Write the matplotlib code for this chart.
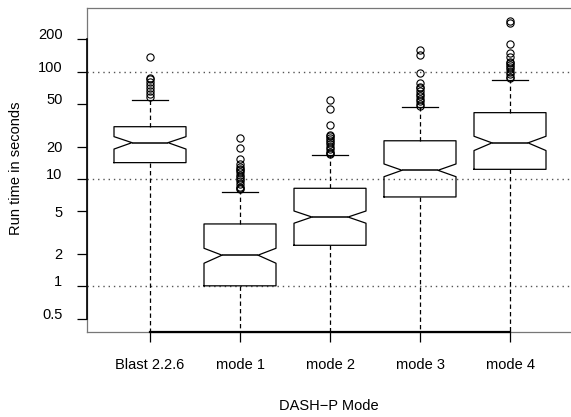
import numpy as np
import matplotlib
matplotlib.use('Agg')
import matplotlib.pyplot as plt
import matplotlib.transforms as mtransforms

plt.rcParams['font.family'] = ['Liberation Sans', 'DejaVu Sans']

# datos (segundos)
modes = ['Blast 2.2.6', 'mode 1', 'mode 2', 'mode 3', 'mode 4']
q1 = [14.2, 1.01, 2.41, 6.8, 12.3]
med = [21.8, 1.95, 4.42, 12.05, 21.7]
q3 = [30.7, 3.81, 8.19, 22.7, 41.5]
ci_lo = [19.0, 1.64, 3.87, 10.5, 18.4]
ci_hi = [24.8, 2.26, 5.03, 13.8, 25.0]
whis_lo = [0.2, 0.2, 0.2, 0.2, 0.2]
whis_hi = [54.1, 7.62, 16.8, 46.6, 83.7]
outliers = [
    [138, 88, 85, 80, 75, 70, 66, 62, 58],
    [23.9, 19.6, 15.3, 13.7, 13, 12.5, 12, 11.5, 11, 10.5, 10, 9.5, 9, 8.5, 8.2, 8],
    [54.5, 44.9, 31.7, 25.9, 25, 24, 23, 22, 21, 20, 19, 18, 17.5, 17.1],
    [159, 143, 97.2, 79, 72.5, 70, 66, 62, 59, 56, 53, 50, 48],
    [299, 283, 180, 148, 138, 124, 120, 115, 110, 105, 100, 95, 90, 87],
]
yticks = [0.5, 1, 2, 5, 10, 20, 50, 100, 200]
grid_y = [1, 10, 100]

stats = []
for i in range(len(modes)):
    stats.append(dict(med=med[i], q1=q1[i], q3=q3[i], cilo=ci_lo[i], cihi=ci_hi[i],
                      whislo=whis_lo[i], whishi=whis_hi[i],
                      fliers=np.array(outliers[i]), label=modes[i]))

fig = plt.figure(figsize=(5.71, 4.17), dpi=100)
ax = fig.add_axes([87 / 571, 85 / 417, 486 / 571, 324 / 417])

ax.set_yscale('log')
ax.set_xlim(0.3, 5.7)
ax.set_ylim(0.375, 392)

# lineas punteadas
for g in grid_y:
    ax.axhline(g, color='#555555', lw=1, linestyle=(0, (1, 2.8)), zorder=1)

ax.bxp(stats, positions=range(1, len(modes) + 1), widths=0.8, shownotches=True,
       capwidths=0.4, patch_artist=False,
       boxprops=dict(color='black', lw=0.9),
       medianprops=dict(color='black', lw=1.1),
       whiskerprops=dict(color='black', lw=0.9, linestyle=(0, (3.5, 2.5))),
       capprops=dict(color='black', lw=0.9),
       flierprops=dict(marker='o', markerfacecolor='none', markeredgecolor='black',
                       markersize=5.2, markeredgewidth=0.8))

for s in ax.spines.values():
    s.set_color('#777777')
    s.set_linewidth(0.9)
ax.spines['right'].set_visible(False)

# ejes estilo R
trans_x = mtransforms.blended_transform_factory(ax.transData, ax.transAxes)
ax.plot([1, len(modes)], [0, 0], color='black', lw=1.6, transform=trans_x, clip_on=False, zorder=5)
trans_y = mtransforms.blended_transform_factory(ax.transAxes, ax.transData)
ax.plot([0, 0], [yticks[0], yticks[-1]], color='black', lw=1.2, transform=trans_y, clip_on=False, zorder=5)

ax.set_xticks(range(1, len(modes) + 1))
ax.set_xticklabels(modes)
ax.set_yticks(yticks)
ax.set_yticklabels([f'{t:g}' for t in yticks])
ax.minorticks_off()
ax.tick_params(axis='both', length=7.2, width=0.9, color='black', labelsize=10.5)
ax.tick_params(axis='x', pad=11.5)
ax.tick_params(axis='y', pad=10.5)

# algunas etiquetas quedan sobre la marca, otras centradas
for t, lab in zip(yticks, ax.get_yticklabels()):
    if t in (2, 5, 20):
        lab.set_va('center_baseline')
    else:
        lab.set_va('baseline')

ax.set_xlabel('DASH\u2212P Mode', fontsize=10.5, va='baseline')
ax.xaxis.set_label_coords((329 - 87) / 486, (332 - 409.5) / 324)
ax.set_ylabel('Run time in seconds', fontsize=10.5, va='center')
ax.yaxis.set_label_coords((16.5 - 87) / 486, (332 - 168.5) / 324)

fig.savefig('out.png', dpi=100)
